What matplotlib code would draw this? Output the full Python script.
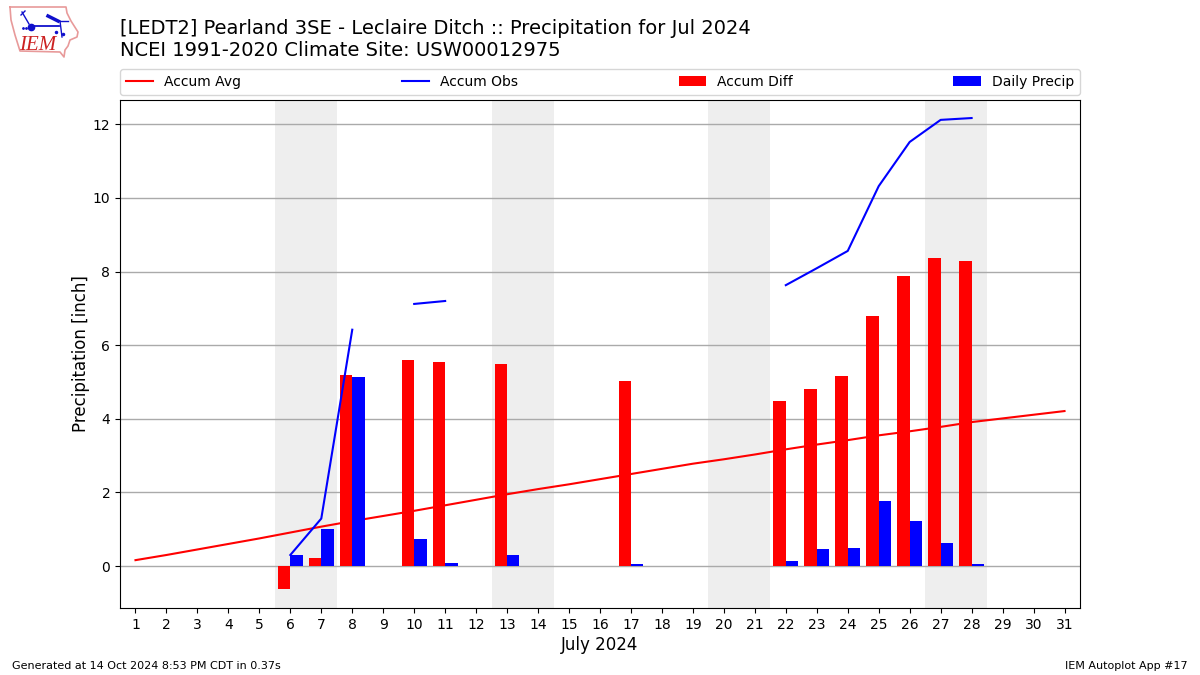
import numpy as np
import matplotlib
matplotlib.use("Agg")
import matplotlib.pyplot as plt

days = list(range(1, 32))
accum_avg = [0.16, 0.30, 0.45, 0.60, 0.75, 0.91, 1.07, 1.22, 1.36, 1.50, 1.65, 1.80, 1.95, 2.09, 2.22, 2.36,
             2.50, 2.64, 2.78, 2.90, 3.03, 3.17, 3.30, 3.42, 3.55, 3.66, 3.78, 3.91, 4.01, 4.11, 4.21]
obs_days_a = [6, 7, 8]
obs_a = [0.30, 1.29, 6.42]
obs_days_b = [10, 11]
obs_b = [7.12, 7.20]
obs_days_c = [22, 23, 24, 25, 26, 27, 28]
obs_c = [7.63, 8.09, 8.56, 10.32, 11.52, 12.12, 12.17]
bar_days = [6, 7, 8, 10, 11, 13, 17, 22, 23, 24, 25, 26, 27, 28]
accum_diff = [-0.63, 0.22, 5.18, 5.59, 5.54, 5.50, 5.02, 4.48, 4.80, 5.16, 6.78, 7.87, 8.36, 8.28]
daily_precip = [0.30, 1.00, 5.13, 0.73, 0.08, 0.30, 0.05, 0.13, 0.46, 0.49, 1.76, 1.22, 0.62, 0.05]
weekends = [(5.5, 7.5), (12.5, 14.5), (19.5, 21.5), (26.5, 28.5)]

title1 = "[LEDT2] Pearland 3SE - Leclaire Ditch :: Precipitation for Jul 2024"
title2 = "NCEI 1991-2020 Climate Site: USW00012975"

W, H = 1200, 675
fig = plt.figure(figsize=(12, 6.75), dpi=100)
ax = fig.add_axes([120 / W, 1 - 608 / H, 960 / W, 508 / H])

for a, b in weekends:
    ax.axvspan(a, b, color="#eeeeee", lw=0, zorder=0)
ax.set_axisbelow(True)
ax.grid(axis="y", color="#aaaaaa", lw=1, zorder=0.5)

ax.plot(days, accum_avg, color="red", lw=1.5, label="Accum Avg", zorder=1.5)
ax.plot(obs_days_a, obs_a, color="blue", lw=1.5, label="Accum Obs", zorder=3)
ax.plot(obs_days_b, obs_b, color="blue", lw=1.5, zorder=3)
ax.plot(obs_days_c, obs_c, color="blue", lw=1.5, zorder=3)
ax.bar(np.array(bar_days) - 0.4, accum_diff, width=0.4, align="edge", color="red",
       label="Accum Diff", zorder=2)
ax.bar(bar_days, daily_precip, width=0.4, align="edge", color="blue",
       label="Daily Precip", zorder=2)

ax.set_xlim(0.5, 31.5)
ax.set_ylim(-1.14, 12.66)
ax.set_xticks(days)
ax.set_yticks(range(0, 13, 2))
ax.tick_params(labelsize=10)
ax.set_xlabel("July 2024", fontsize=12, labelpad=3)
ax.set_ylabel("Precipitation [inch]", fontsize=12, labelpad=2)

ax.legend(loc="lower left", bbox_to_anchor=(0, 1 + 5.5 / 508, 1, 0.05), mode="expand", ncol=4,
          fontsize=10, borderaxespad=0, framealpha=0.8)

fig.text(120 / W, 1 - 29 / H, title1, fontsize=14, va="center", ha="left")
fig.text(120 / W, 1 - 51 / H, title2, fontsize=14, va="center", ha="left")
fig.text(12 / W, 1 - 666 / H, "Generated at 14 Oct 2024 8:53 PM CDT in 0.37s", fontsize=8, va="center")
fig.text(1188 / W, 1 - 666 / H, "IEM Autoplot App #17", fontsize=8, va="center", ha="right")

# IEM logo, drawn in pixel coordinates of a small inset
logo = fig.add_axes([0, 1 - 60 / H, 85 / W, 60 / H])
logo.set_xlim(0, 85)
logo.set_ylim(60, 0)
logo.axis("off")
outline_x = [10, 66, 67, 71, 78, 77, 70, 68, 65, 64, 60, 20, 15, 11, 10]
outline_y = [7, 7, 13, 21, 32, 37, 40, 46, 50, 57, 52, 51, 35, 20, 7]
logo.plot(outline_x, outline_y, color="#e89a9a", lw=1.2)
logo.plot([31, 59], [26, 26], color="#1010cc", lw=1.3)
logo.plot([22, 29], [12, 24], color="#1010cc", lw=1.0)
logo.plot([21, 25], [15, 11], color="#1010cc", lw=1.0)
logo.plot([48, 58], [16, 21], color="#1010cc", lw=2.5)
logo.plot([60, 62], [21, 37], color="#1010cc", lw=1.0)
logo.plot([58, 68], [21, 21], color="#1010cc", lw=1.0)
logo.plot([31], [27], "o", color="#1010cc", ms=4.5)
logo.plot([23, 26], [28, 28], ".", color="#1010cc", ms=2)
logo.plot([56, 63], [32, 34], ".", color="#1010cc", ms=3)
logo.text(37.5, 45, "IEM", color="#cc2222", fontsize=15, family="Liberation Serif",
          style="italic", ha="center", va="center")

fig.savefig("out.png", dpi=100)
